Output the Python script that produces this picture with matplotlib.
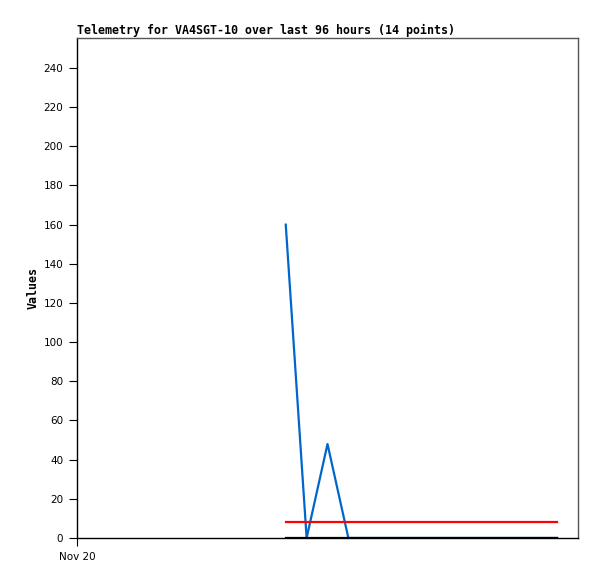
import matplotlib.pyplot as plt

hours = [40, 44, 48, 52, 56, 60, 64, 68, 72, 76, 80, 84, 88, 92]
blue_vals = [160, 0, 48, 0, 0, 0, 0, 0, 0, 0, 0, 0, 0, 0]
red_vals = [8] * 14
black_vals = [0] * 14
yticks = list(range(0, 241, 20))
xticks = [0]
xlabels = ['Nov 20']

fig = plt.figure(figsize=(5.97, 5.79), dpi=100)
ax = fig.add_axes([77 / 597, 1 - 538 / 579, 501 / 597, 500 / 579])

ax.plot(hours, blue_vals, color='#0066cc', lw=1.6)
ax.plot(hours, red_vals, color='#ff0000', lw=1.6)
ax.plot(hours, black_vals, color='black', lw=1.6)

ax.set_xlim(0, 96)
ax.set_ylim(0, 255.3)
ax.set_yticks(yticks)
ax.set_yticklabels([str(v) for v in yticks], fontsize=7.5, family='DejaVu Sans')
ax.set_xticks(xticks)
ax.set_xticklabels(xlabels, fontsize=7.5, family='DejaVu Sans')
ax.tick_params(direction='out', length=6, width=0.8, pad=4)

for s in ['left', 'bottom']:
    ax.spines[s].set_color('black')
    ax.spines[s].set_linewidth(1)
for s in ['top', 'right']:
    ax.spines[s].set_color('#555555')
    ax.spines[s].set_linewidth(1)

ax.set_title('Telemetry for VA4SGT-10 over last 96 hours (14 points)',
             loc='left', fontsize=8.35, family='DejaVu Sans Mono',
             fontweight='bold', pad=3)
ax.set_ylabel('Values', fontsize=8.35, family='DejaVu Sans Mono',
              fontweight='bold', labelpad=3)

fig.savefig('out.png', dpi=100)
